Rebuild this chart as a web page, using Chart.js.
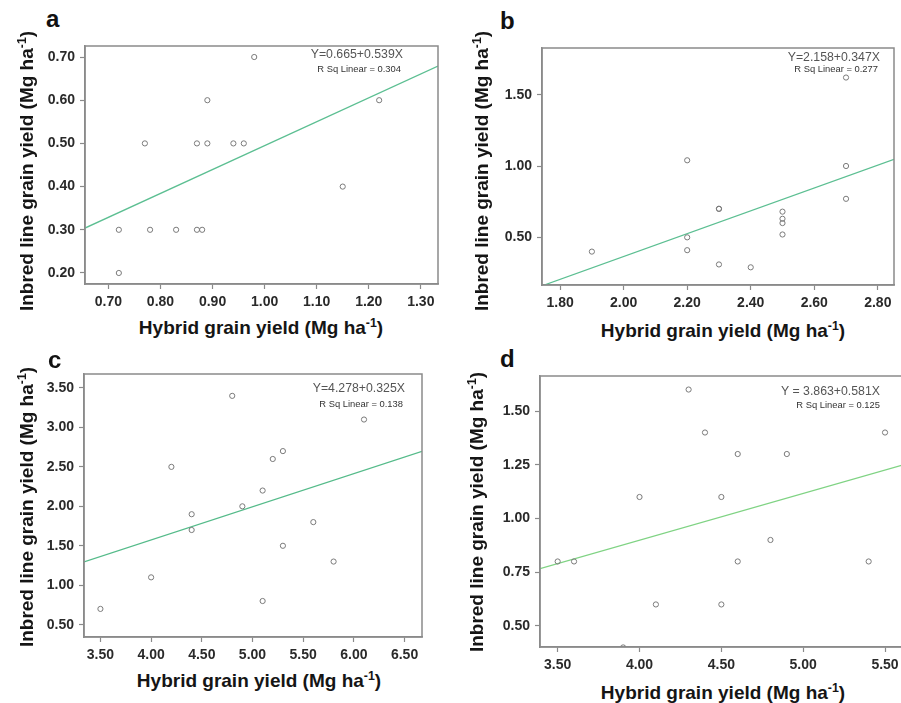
<!DOCTYPE html>
<html>
<head>
<meta charset="utf-8">
<script src="https://cdn.jsdelivr.net/npm/chart.js@4.4.1/dist/chart.umd.min.js"></script>
<style>
  html, body { margin: 0; padding: 0; background: #fff; }
  body { width: 901px; height: 703px; position: relative; overflow: hidden; font-family: "Liberation Sans", Arial, sans-serif; }
  canvas { position: absolute; }
  .lbl { position: absolute; white-space: nowrap; line-height: 1; }
  .letter { font-size: 24px; font-weight: bold; color: #111; }
  .xt { font-size: 19px; font-weight: bold; color: #151515; transform: translate(-50%, -50%); }
  .yt { font-size: 19px; font-weight: bold; color: #151515; transform: translate(-50%, -50%) rotate(-90deg); }
  .eq { font-size: 12.3px; color: #555; transform: translate(-100%, -50%); }
  .rsq { font-size: 9.4px; color: #333; transform: translate(-100%, -50%); }
  sup { font-size: 0.65em; vertical-align: 0.55em; line-height: 0; }
</style>
</head>
<body>
<canvas id="ca" width="415" height="270" style="left:25px;top:44px"></canvas>
<canvas id="cb" width="414" height="269" style="left:482px;top:46px"></canvas>
<canvas id="cc" width="400" height="295" style="left:24px;top:372px"></canvas>
<canvas id="cd" width="427" height="303" style="left:480px;top:374px"></canvas>

<div class="lbl letter" style="left:46px;top:7px">a</div>
<div class="lbl letter" style="left:500px;top:9px">b</div>
<div class="lbl letter" style="left:48px;top:348px">c</div>
<div class="lbl letter" style="left:500px;top:347px">d</div>

<div class="lbl xt" style="left:261px;top:327px">Hybrid grain yield (Mg ha<sup>-1</sup>)</div>
<div class="lbl xt" style="left:723px;top:330px">Hybrid grain yield (Mg ha<sup>-1</sup>)</div>
<div class="lbl xt" style="left:259px;top:680px">Hybrid grain yield (Mg ha<sup>-1</sup>)</div>
<div class="lbl xt" style="left:723px;top:692px">Hybrid grain yield (Mg ha<sup>-1</sup>)</div>

<div class="lbl yt" style="left:26px;top:171px">Inbred line grain yield (Mg ha<sup>-1</sup>)</div>
<div class="lbl yt" style="left:481px;top:171px">Inbred line grain yield (Mg ha<sup>-1</sup>)</div>
<div class="lbl yt" style="left:26px;top:507px">Inbred line grain yield (Mg ha<sup>-1</sup>)</div>
<div class="lbl yt" style="left:476px;top:512px">Inbred line grain yield (Mg ha<sup>-1</sup>)</div>

<div class="lbl eq" style="left:403px;top:54px">Y=0.665+0.539X</div>
<div class="lbl rsq" style="left:401px;top:69px">R Sq Linear = 0.304</div>
<div class="lbl eq" style="left:880px;top:57px">Y=2.158+0.347X</div>
<div class="lbl rsq" style="left:878px;top:69px">R Sq Linear = 0.277</div>
<div class="lbl eq" style="left:405px;top:388px">Y=4.278+0.325X</div>
<div class="lbl rsq" style="left:403px;top:404px">R Sq Linear = 0.138</div>
<div class="lbl eq" style="left:880px;top:391px">Y = 3.863+0.581X</div>
<div class="lbl rsq" style="left:880px;top:405px">R Sq Linear = 0.125</div>

<script>
// panel a
const aHybrid = [0.72, 0.72, 0.77, 0.78, 0.83, 0.87, 0.87, 0.88, 0.89, 0.89, 0.94, 0.96, 0.98, 1.15, 1.22];
const aInbred = [0.30, 0.20, 0.50, 0.30, 0.30, 0.50, 0.30, 0.30, 0.60, 0.50, 0.50, 0.50, 0.70, 0.40, 0.60];
const aFitX = [0.655, 1.333];
const aFitY = [0.304, 0.679];
const aXTicks = [0.70, 0.80, 0.90, 1.00, 1.10, 1.20, 1.30];
const aYTicks = [0.20, 0.30, 0.40, 0.50, 0.60, 0.70];

// panel b
const bHybrid = [1.90, 2.20, 2.20, 2.20, 2.30, 2.30, 2.30, 2.40, 2.50, 2.50, 2.50, 2.50, 2.70, 2.70, 2.70];
const bInbred = [0.40, 1.04, 0.50, 0.41, 0.70, 0.70, 0.31, 0.29, 0.68, 0.63, 0.60, 0.52, 1.62, 1.00, 0.77];
const bFitX = [1.75, 2.851];
const bFitY = [0.166, 1.047];
const bXTicks = [1.80, 2.00, 2.20, 2.40, 2.60, 2.80];
const bYTicks = [0.50, 1.00, 1.50];

// panel c
const cHybrid = [3.50, 4.00, 4.20, 4.40, 4.40, 4.80, 4.90, 5.10, 5.10, 5.20, 5.30, 5.30, 5.60, 5.80, 6.10];
const cInbred = [0.70, 1.10, 2.50, 1.90, 1.70, 3.40, 2.00, 2.20, 0.80, 2.60, 2.70, 1.50, 1.80, 1.30, 3.10];
const cFitX = [3.338, 6.672];
const cFitY = [1.295, 2.697];
const cXTicks = [3.50, 4.00, 4.50, 5.00, 5.50, 6.00, 6.50];
const cYTicks = [0.50, 1.00, 1.50, 2.00, 2.50, 3.00, 3.50];

// panel d
const dHybrid = [3.50, 3.60, 3.90, 4.00, 4.10, 4.30, 4.40, 4.50, 4.50, 4.60, 4.60, 4.80, 4.90, 5.40, 5.50];
const dInbred = [0.80, 0.80, 0.40, 1.10, 0.60, 1.60, 1.40, 1.10, 0.60, 1.30, 0.80, 0.90, 1.30, 0.80, 1.40];
const dFitX = [3.392, 5.622];
const dFitY = [0.767, 1.252];
const dXTicks = [3.50, 4.00, 4.50, 5.00, 5.50];
const dYTicks = [0.50, 0.75, 1.00, 1.25, 1.50];

const frame = {
    id: 'frame',
    afterDraw(chart) {
        const { ctx, chartArea: a } = chart;
        ctx.save();
        ctx.strokeStyle = '#8a8a8a';
        ctx.lineWidth = 1.5;
        ctx.strokeRect(a.left, a.top, a.right - a.left, a.bottom - a.top);
        ctx.restore();
    }
};

function pairs(xs, ys) {
    return xs.map((x, i) => ({ x: x, y: ys[i] }));
}

function axis(min, max, ticks, isY, size) {
    return {
        type: 'linear',
        min: min,
        max: max,
        afterBuildTicks: (scale) => { scale.ticks = ticks.map(v => ({ value: v })); },
        afterFit: (scale) => {
            if (isY) scale.width = size; else scale.height = size;
            // no extra room for edge labels, the box is placed by hand
            scale.paddingTop = 0;
            scale.paddingBottom = 0;
            scale.paddingLeft = 0;
            scale.paddingRight = 0;
        },
        grid: { display: true, drawOnChartArea: false, drawTicks: true, tickLength: 5, tickColor: '#8a8a8a', tickWidth: 1.2 },
        border: { display: true, color: '#8a8a8a', width: 1.5 },
        ticks: {
            padding: 5,
            color: '#2a2a2a',
            font: { family: '"Liberation Sans", Arial, sans-serif', size: 14, weight: 'bold' },
            callback: (v) => Number(v).toFixed(2)
        }
    };
}

function makeChart(id, hx, iy, fx, fy, xr, yr, xt, yt, lineColor) {
    new Chart(document.getElementById(id), {
        type: 'scatter',
        data: {
            datasets: [{
                data: pairs(hx, iy),
                pointRadius: 2.6,
                pointBorderWidth: 1,
                pointBorderColor: '#7a7a7a',
                pointBackgroundColor: 'rgba(255,255,255,0)'
            }, {
                data: pairs(fx, fy),
                showLine: true,
                pointRadius: 0,
                borderColor: lineColor,
                borderWidth: 1.3
            }]
        },
        options: {
            responsive: false,
            animation: false,
            devicePixelRatio: 1,
            layout: { autoPadding: false, padding: { top: 2, right: 2, left: 0, bottom: 0 } },
            plugins: { legend: { display: false }, tooltip: { enabled: false } },
            scales: {
                x: axis(xr[0], xr[1], xt, false, 30),
                y: axis(yr[0], yr[1], yt, true, 60)
            }
        },
        plugins: [frame]
    });
}

makeChart('ca', aHybrid, aInbred, aFitX, aFitY, [0.655, 1.333], [0.1745, 0.7255], aXTicks, aYTicks, '#5cbf92');
makeChart('cb', bHybrid, bInbred, bFitX, bFitY, [1.743, 2.851], [0.166, 1.827], bXTicks, bYTicks, '#5cbf92');
makeChart('cc', cHybrid, cInbred, cFitX, cFitY, [3.338, 6.672], [0.344, 3.677], cXTicks, cYTicks, '#55bb8a');
makeChart('cd', dHybrid, dInbred, dFitX, dFitY, [3.392, 5.622], [0.402, 1.663], dXTicks, dYTicks, '#7fd383');
</script>
</body>
</html>
